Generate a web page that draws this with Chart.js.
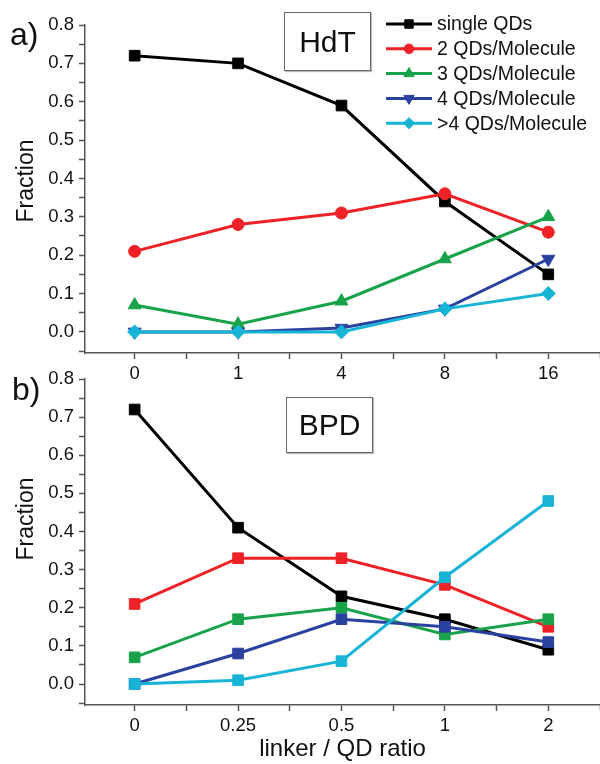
<!DOCTYPE html>
<html>
<head>
<meta charset="utf-8">
<script src="https://cdn.jsdelivr.net/npm/chart.js@4/dist/chart.umd.min.js"></script>
<style>
  body { margin: 0; width: 600px; height: 764px; position: relative; overflow: hidden; background: #fff;
         font-family: "Liberation Sans", Arial, sans-serif; color: #111; }
  .panel { position: absolute; left: 0; width: 600px; }
  #panelA { top: 0; height: 385px; }
  #panelB { top: 355px; height: 409px; }
  .tag { position: absolute; font-size: 32px; line-height: 1; }
  .box { position: absolute; border: 1px solid #666; box-shadow: 1px 1px 1px #bbb; font-size: 30px;
         display: flex; align-items: center; justify-content: center; background: #fff; }
  .ylab { position: absolute; font-size: 23px; line-height: 1; white-space: nowrap;
          transform: translate(-50%, -50%) rotate(-90deg); }
</style>
</head>
<body>
<div class="panel" id="panelA"><canvas id="chartA"></canvas></div>
<div class="panel" id="panelB"><canvas id="chartB"></canvas></div>
<div class="tag" style="left:10px; top:18px;">a)</div>
<div class="tag" style="left:12px; top:373px;">b)</div>
<div class="box" style="left:284px; top:12px; width:85px; height:57px;">HdT</div>
<div class="box" style="left:286px; top:397px; width:85px; height:54px;">BPD</div>
<div class="ylab" style="left:25px; top:181px;">Fraction</div>
<div class="ylab" style="left:25px; top:519px;">Fraction</div>

<script>
// x categories (linker / QD ratio)
const hdtRatios = ['0', '1', '4', '8', '16'];
const bpdRatios = ['0', '0.25', '0.5', '1', '2'];
const seriesNames = ['single QDs', '2 QDs/Molecule', '3 QDs/Molecule', '4 QDs/Molecule', '>4 QDs/Molecule'];

// panel a) HdT
const hdtSingle = [0.72, 0.70, 0.59, 0.34, 0.15];
const hdtTwo = [0.21, 0.28, 0.31, 0.36, 0.26];
const hdtThree = [0.07, 0.02, 0.08, 0.19, 0.30];
const hdtFour = [0.00, 0.00, 0.01, 0.06, 0.19];
const hdtMore = [0.00, 0.00, 0.00, 0.06, 0.10];

// panel b) BPD
const bpdSingle = [0.72, 0.41, 0.23, 0.17, 0.09];
const bpdTwo = [0.21, 0.33, 0.33, 0.26, 0.15];
const bpdThree = [0.07, 0.17, 0.20, 0.13, 0.17];
const bpdFour = [0.00, 0.08, 0.17, 0.15, 0.11];
const bpdMore = [0.00, 0.01, 0.06, 0.28, 0.48];

const colors = ['#000000', '#ee2226', '#18a34a', '#2b41a0', '#18b4d6'];
const markersA = [
  { style: 'rect', radius: 7.5, rotation: 0 },
  { style: 'circle', radius: 6, rotation: 0 },
  { style: 'triangle', radius: 7.5, rotation: 0 },
  { style: 'triangle', radius: 7.5, rotation: 180 },
  { style: 'rectRot', radius: 7, rotation: 0 }
];

Chart.defaults.font.family = '"Liberation Sans", Arial, sans-serif';
Chart.defaults.color = '#111';

function makeDatasets(seriesList, markers) {
  return seriesList.map((vals, i) => ({
    label: seriesNames[i],
    data: vals.map((v, k) => ({ x: k, y: v })),
    borderColor: colors[i],
    backgroundColor: colors[i],
    borderWidth: 3,
    pointStyle: markers[i].style,
    pointRadius: markers[i].radius,
    pointRotation: markers[i].rotation,
    pointBorderWidth: 1,
    order: 5 - i
  }));
}

// legend with a line through the marker, like the original figure
const lineLegend = {
  id: 'lineLegend',
  afterDraw(chart) {
    const ctx = chart.ctx;
    ctx.save();
    chart.data.datasets.forEach((ds, i) => {
      const y = 24 + i * 24.8;
      ctx.strokeStyle = ds.borderColor;
      ctx.fillStyle = ds.borderColor;
      ctx.lineWidth = 3;
      ctx.beginPath();
      ctx.moveTo(386, y);
      ctx.lineTo(432, y);
      ctx.stroke();
      ctx.lineWidth = 1;
      if (Chart.helpers && Chart.helpers.drawPoint) {
        Chart.helpers.drawPoint(ctx, {
          pointStyle: ds.pointStyle, radius: ds.pointRadius * 0.8,
          rotation: ds.pointRotation, borderWidth: 1
        }, 409, y);
      }
      ctx.fillStyle = '#111';
      ctx.font = '19.5px "Liberation Sans", Arial, sans-serif';
      ctx.textBaseline = 'middle';
      ctx.textAlign = 'left';
      ctx.fillText(ds.label, 437, y + 1);
    });
    ctx.restore();
  }
};

function buildChart(id, labels, datasets, padTop, xHeight, showTitle, plugins) {
  const ctx = document.getElementById(id).getContext('2d');
  return new Chart(ctx, {
    type: 'line',
    data: { datasets: datasets },
    options: {
      responsive: true,
      maintainAspectRatio: false,
      animation: false,
      layout: { autoPadding: false, padding: { top: padTop, left: 0, right: 0, bottom: 0 } },
      plugins: { legend: { display: false }, tooltip: { enabled: false } },
      scales: {
        x: {
          type: 'linear',
          min: -0.48,
          max: 4.5,
          border: { color: '#555', width: 1.5 },
          grid: { drawOnChartArea: false, drawTicks: true, tickLength: 6, tickColor: '#555', tickWidth: 1.5 },
          ticks: {
            stepSize: 0.5,
            includeBounds: false,
            autoSkip: false,
            maxRotation: 0,
            padding: 4,
            font: { size: 18.5 },
            callback: (v) => Math.abs(v - Math.round(v)) < 1e-6 ? (labels[Math.round(v)] || '') : ''
          },
          title: {
            display: showTitle,
            text: 'linker / QD ratio',
            font: { size: 24 },
            padding: { top: 0, bottom: 0 }
          },
          afterFit: (scale) => {
            scale.height = xHeight;
            scale.paddingLeft = 0;
            scale.paddingRight = 0;
          }
        },
        y: {
          min: -0.055,
          max: 0.8,
          border: { color: '#555', width: 1.5 },
          grid: { drawOnChartArea: false, drawTicks: true, tickLength: 6, tickColor: '#555', tickWidth: 1.5 },
          ticks: {
            stepSize: 0.05,
            includeBounds: false,
            autoSkip: false,
            padding: 5,
            font: { size: 18.5 },
            callback: (v) => Math.abs(v * 10 - Math.round(v * 10)) < 1e-6 ? (Math.round(v * 10) / 10).toFixed(1) : ''
          },
          afterFit: (scale) => { scale.width = 85; }
        }
      }
    },
    plugins: plugins
  });
}

buildChart('chartA', hdtRatios,
  makeDatasets([hdtSingle, hdtTwo, hdtThree, hdtFour, hdtMore], markersA),
  25, 32, false, [lineLegend]);

const markersB = seriesNames.map(() => ({ style: 'rect', radius: 7.5, rotation: 0 }));
buildChart('chartB', bpdRatios,
  makeDatasets([bpdSingle, bpdTwo, bpdThree, bpdFour, bpdMore], markersB),
  24, 59, true, []);
</script>
</body>
</html>
